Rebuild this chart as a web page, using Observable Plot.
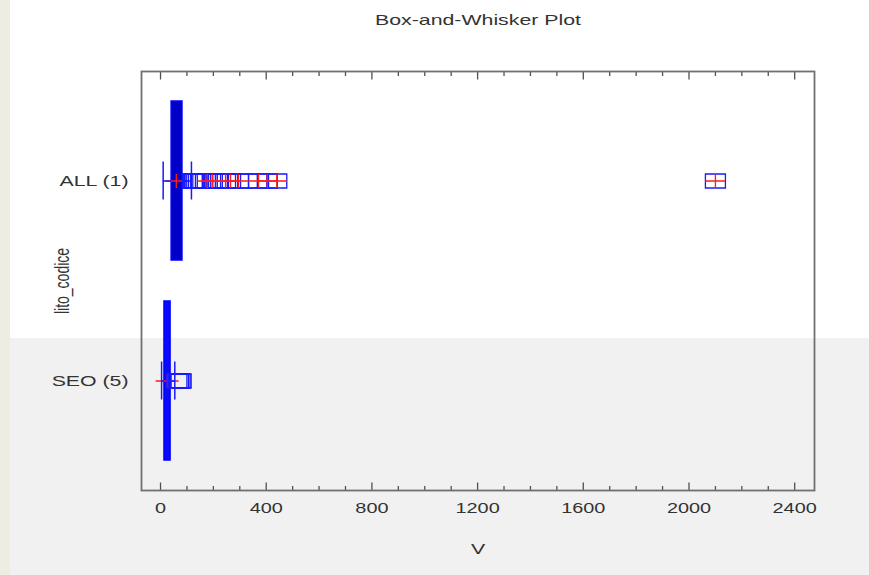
<!DOCTYPE html>
<html>
<head>
<meta charset="utf-8">
<script src="https://cdn.jsdelivr.net/npm/d3@7"></script>
<script src="https://cdn.jsdelivr.net/npm/@observablehq/plot@0.6"></script>
<style>
  html, body { margin: 0; padding: 0; }
  body { width: 869px; height: 575px; position: relative; overflow: hidden; background: #ffffff;
         font-family: "Liberation Sans", Arial, sans-serif; }
  .bg-strip { position: absolute; left: 0; top: 0; width: 10px; height: 575px; background: #eeede3; }
  .bg-low { position: absolute; left: 10px; top: 338px; width: 859px; height: 237px; background: #f1f1f1; }
  #title { position: relative; width: 869px; height: 40px; line-height: 40px; }
  #title span { position: absolute; left: 477.5px; top: 0; white-space: nowrap; font-size: 15px; color: #333;
                transform: translateX(-50%) scaleX(1.42); }
  #chart { position: relative; }
</style>
</head>
<body>
<div class="bg-strip"></div>
<div class="bg-low"></div>
<div id="title"><span>Box-and-Whisker Plot</span></div>
<div id="chart"></div>
<script>
// ---- data ----
const categories = ["ALL (1)", "SEO (5)"];
const q1 = [42, 15];
const q3 = [83, 38];
const whiskerLo = [10, 4];
const whiskerHi = [117, 54];
const means = [60, 25];
const outsideALL = [121, 124, 128, 131, 137, 144, 152, 160, 170, 215, 330];
const farALL = [177, 196, 246, 265, 295, 371, 404, 440, 2100];
const outsideSEO = [62, 68, 74, 78];
const xTickLabels = [0, 400, 800, 1200, 1600, 2000, 2400];
const xMinorTicks = d3.range(0, 2401, 100);

// ---- tables built from the arrays ----
const boxes = categories.map((c, i) => ({cat: c, q1: q1[i], q3: q3[i], lo: whiskerLo[i], hi: whiskerHi[i], mean: means[i]}));
const outs = [
  ...outsideALL.map(v => ({cat: categories[0], v})),
  ...farALL.map(v => ({cat: categories[0], v})),
  ...outsideSEO.map(v => ({cat: categories[1], v}))
];
const fars = farALL.map(v => ({cat: categories[0], v}));
const majorTicks = xMinorTicks.filter(v => v % 400 === 0);
const minorTicks = xMinorTicks.filter(v => v % 400 !== 0);

// ---- custom symbols (pixel sized markers) ----
const rectSym = {draw(ctx) { ctx.rect(-10, -7, 20, 14); }};
const plusSym = {draw(ctx) { ctx.moveTo(-10, 0); ctx.lineTo(10, 0); ctx.moveTo(0, -7); ctx.lineTo(0, 7); }};
const meanSym = {draw(ctx) { ctx.moveTo(-11.5, 0); ctx.lineTo(11.5, 0); ctx.moveTo(0, -7); ctx.lineTo(0, 7); }};
const tickUpMajor = {draw(ctx) { ctx.moveTo(0, 0); ctx.lineTo(0, -8); }};
const tickUpMinor = {draw(ctx) { ctx.moveTo(0, 0); ctx.lineTo(0, -4.5); }};
const tickDownMajor = {draw(ctx) { ctx.moveTo(0, 0); ctx.lineTo(0, 8); }};
const tickDownMinor = {draw(ctx) { ctx.moveTo(0, 0); ctx.lineTo(0, 4.5); }};

const blue = "#1a1aff";
const red = "#ff1a1a";
const tickColor = "#505050";

const plot = Plot.plot({
  width: 869,
  height: 535,
  marginTop: 31,
  marginBottom: 85,
  marginLeft: 141,
  marginRight: 55,
  style: {background: "transparent", fontFamily: "Liberation Sans, Arial, sans-serif", color: "#333"},
  x: {domain: [-72, 2475]},
  y: {type: "band", domain: categories, padding: 0.095, round: false},
  marks: [
    // inward ticks, bottom and top
    Plot.dot(majorTicks, {x: d => d, frameAnchor: "bottom", symbol: tickUpMajor, fill: "none", stroke: tickColor, strokeWidth: 1.3}),
    Plot.dot(minorTicks, {x: d => d, frameAnchor: "bottom", symbol: tickUpMinor, fill: "none", stroke: tickColor, strokeWidth: 1.3}),
    Plot.dot(majorTicks, {x: d => d, frameAnchor: "top", symbol: tickDownMajor, fill: "none", stroke: tickColor, strokeWidth: 1.3}),
    Plot.dot(minorTicks, {x: d => d, frameAnchor: "top", symbol: tickDownMinor, fill: "none", stroke: tickColor, strokeWidth: 1.3}),
    Plot.axisX({ticks: xTickLabels, tickFormat: "d", tickSize: 0, tickPadding: 13, label: null, fontSize: 14, fill: "#333"}),
    Plot.axisY({tickSize: 0, tickPadding: 13, label: null, fontSize: 15, fill: "#333"}),
    Plot.text(["lito_codice"], {text: d => d, frameAnchor: "left", textAnchor: "middle", lineAnchor: "middle", rotate: -90, dx: -79, fontSize: 14, fill: "#333"}),
    Plot.text(["V"], {text: d => d, frameAnchor: "bottom", textAnchor: "middle", lineAnchor: "middle", dy: 59, fontSize: 15, fill: "#333"}),
    // boxes
    Plot.barX(boxes, {y: "cat", x1: "q1", x2: "q3", insetTop: 11, insetBottom: 11,
      fill: d => d.cat === categories[0] ? "#0000c8" : "#0a0aff", stroke: "#0000ff", strokeWidth: 1.5}),
    // mean
    Plot.dot(boxes, {x: "mean", y: "cat", symbol: meanSym, fill: "none", stroke: red, strokeWidth: 1.5}),
    // whiskers
    Plot.ruleY(boxes, {y: "cat", x1: "lo", x2: "q1", stroke: blue, strokeWidth: 1.5}),
    Plot.ruleY(boxes, {y: "cat", x1: "q3", x2: "hi", stroke: blue, strokeWidth: 1.5}),
    Plot.tickX(boxes, {x: "lo", y: "cat", insetTop: 71.5, insetBottom: 71.5, stroke: blue, strokeWidth: 1.5}),
    Plot.tickX(boxes, {x: "hi", y: "cat", insetTop: 71.5, insetBottom: 71.5, stroke: blue, strokeWidth: 1.5}),
    // outside points
    Plot.dot(outs, {x: "v", y: "cat", symbol: rectSym, fill: "none", stroke: blue, strokeWidth: 1.3}),
    // far outside points
    Plot.dot(fars, {x: "v", y: "cat", symbol: plusSym, fill: "none", stroke: red, strokeWidth: 1.3}),
    Plot.frame({stroke: "#707070", strokeWidth: 1.8})
  ]
});

// widen the lettering horizontally, as in the (stretched) reference
const S = 1.42;
plot.querySelectorAll("text").forEach(t => {
  const tr = t.getAttribute("transform");
  const m = tr && tr.match(/^\s*translate\(([^)]*)\)(.*)$/);
  if (m) {
    t.setAttribute("transform", `translate(${m[1]}) scale(${S},1)${m[2]}`);
  } else {
    const x = +(t.getAttribute("x") || 0);
    t.setAttribute("transform", `translate(${x},0) scale(${S},1) translate(${-x},0)` + (tr ? " " + tr : ""));
  }
});

document.getElementById("chart").appendChild(plot);
</script>
</body>
</html>
